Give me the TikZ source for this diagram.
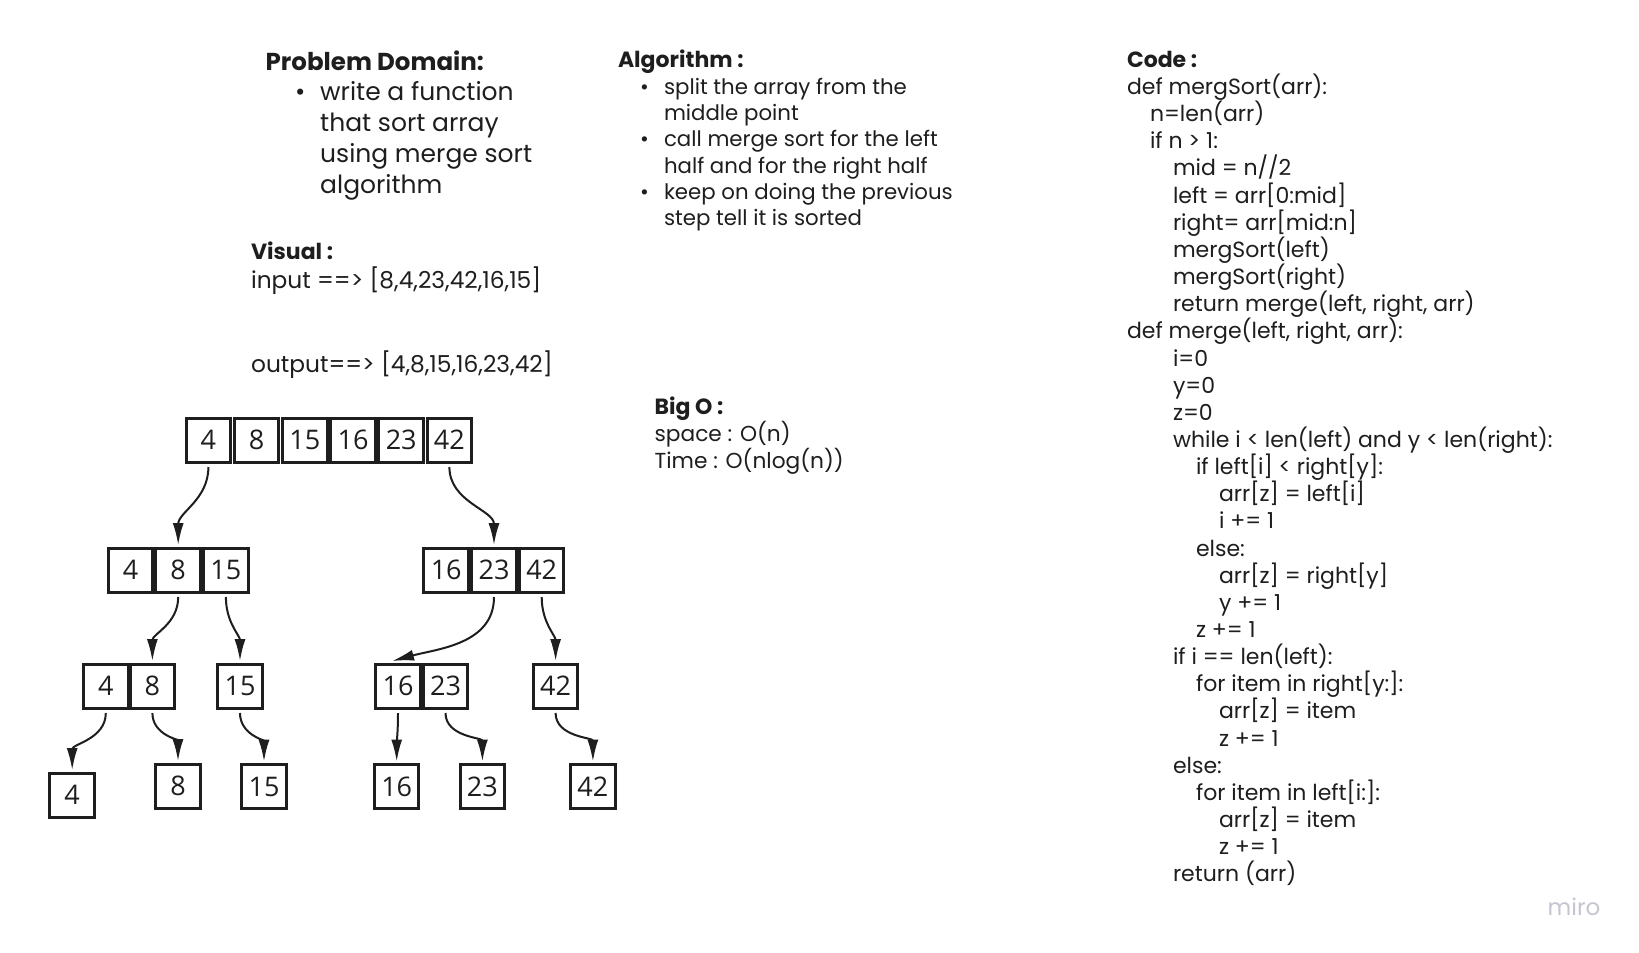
\documentclass[tikz,border=0pt]{standalone}
\usepackage{fontspec}
\setmainfont{Poppins}
\newfontfamily\numfont{Open Sans}
\usetikzlibrary{arrows.meta}
\definecolor{ink}{HTML}{1E1E1E}
\definecolor{wmark}{HTML}{C5C6CF}
\tikzset{
  cell/.style={draw=ink, line width=3pt, minimum width=44.5pt, minimum height=44pt, inner sep=0pt,
    font=\numfont\fontsize{27}{27}\selectfont, text=ink},
  arr/.style={draw=ink, line width=2pt, -{Latex[length=22pt,width=11pt]}},
  bighead/.style={anchor=base west, inner sep=0pt, font=\bfseries\fontsize{24.5}{28}\selectfont, text=ink},
  head/.style={anchor=base west, inner sep=0pt, font=\bfseries\fontsize{22}{26}\selectfont, text=ink},
  bigtxt/.style={anchor=base west, inner sep=0pt, font=\fontsize{25}{29}\selectfont, text=ink},
  txt/.style={anchor=base west, inner sep=0pt, font=\fontsize{23.3}{27}\selectfont, text=ink},
  botxt/.style={anchor=base west, inner sep=0pt, font=\fontsize{21.7}{25}\selectfont, text=ink},
  algtxt/.style={anchor=base west, inner sep=0pt, font=\fontsize{21.3}{25}\selectfont, text=ink},
  codetxt/.style={anchor=base west, inner sep=0pt, font=\fontsize{22}{26}\selectfont, text=ink},
}
\begin{document}
\begin{tikzpicture}[x=1pt,y=1pt]
\useasboundingbox[fill=white] (0,0) rectangle (1639,-953);

% ---------- Problem Domain ----------
\node[bighead] (pdh) at (265.5,-70) {Problem Domain:};
\foreach \t [count=\i] in {write a function, that sort array, using merge sort, algorithm}{
  \node[bigtxt] (pd\i) at (320,{-100.5-31*(\i-1)}) {\t};
}
\node[bigtxt] (pdb) at (295,-100.5) {•};

% ---------- Visual ----------
\node[head] (vh) at (250.9,-259.5) {Visual :};
\node[txt] (vin) at (250.9,-288) {input ==> [8,4,23,42,16,15]};
\node[txt] (vout) at (250.9,-372) {output==> [4,8,15,16,23,42]};

% ---------- Algorithm ----------
\node[head] (alh) at (617.8,-67) {Algorithm :};
\foreach \t [count=\i] in {split the array from the, middle point, call merge sort for the left, half and for the right half, keep on doing the previous, step tell it is sorted}{
  \node[algtxt] (al\i) at (663.8,{-94-26.35*(\i-1)}) {\t};
}
\node[algtxt] (alb1) at (640,-94) {•};
\node[algtxt] (alb2) at (640,-146.7) {•};
\node[algtxt] (alb3) at (640,-199.4) {•};

% ---------- Big O ----------
\node[head] (boh) at (654.4,-414) {Big O :};
\node[botxt] (bo1) at (654.4,-441.3) {space : O(n)};
\node[botxt] (bo2) at (654.4,-468.5) {Time : O(nlog(n))};

% ---------- Code ----------
\node[head] (cdh) at (1126.8,-67) {Code :};
\foreach \ind/\t [count=\i] in {
  0/{def mergSort(arr):},
  1/{n=len(arr)},
  1/{if n > 1:},
  2/{mid = n//2},
  2/{left = arr[0:mid]},
  2/{right= arr[mid:n]},
  2/{mergSort(left)},
  2/{mergSort(right)},
  2/{return merge(left, right, arr)},
  0/{def merge(left, right, arr):},
  2/{i=0},
  2/{y=0},
  2/{z=0},
  2/{while i < len(left) and y < len(right):},
  3/{if left[i] < right[y]:},
  4/{arr[z] = left[i]},
  4/{i += 1},
  3/{else:},
  4/{arr[z] = right[y]},
  4/{y += 1},
  3/{z += 1},
  2/{if i == len(left):},
  3/{for item in right[y:]:},
  4/{arr[z] = item},
  4/{z += 1},
  2/{else:},
  3/{for item in left[i:]:},
  4/{arr[z] = item},
  4/{z += 1},
  2/{return (arr)}}{
  \node[codetxt] (code\i) at ({1126.8+23*\ind},{-94.5-27.15*(\i-1)}) {\t};
}

\node[anchor=center, inner sep=0pt, text=wmark, font=\fontsize{23}{26}\selectfont] (miro) at (1574,-907) {miro};

% ---------- Tree ----------
\foreach \v [count=\i] in {4,8,15,16,23,42}{
  \node[cell] (t\i) at ({208.4+48.2*(\i-1)},-440) {\v};
}
\node[cell] (a1) at (130.5,-570) {4};
\node[cell] (a2) at (178.2,-570) {8};
\node[cell] (a3) at (225.9,-570) {15};
\node[cell] (b1) at (446.2,-570) {16};
\node[cell] (b2) at (494,-570) {23};
\node[cell] (b3) at (541.7,-570) {42};

\node[cell] (c1) at (105.8,-686) {4};
\node[cell] (c2) at (152.4,-686) {8};
\node[cell] (c3) at (240,-686) {15};
\node[cell] (c4) at (398,-686) {16};
\node[cell] (c5) at (445.5,-686) {23};
\node[cell] (c6) at (555.6,-686) {42};

\node[cell] (d1) at (72.2,-795) {4};
\node[cell] (d2) at (178,-786) {8};
\node[cell] (d3) at (264,-786.5) {15};
\node[cell] (d4) at (396.7,-786.5) {16};
\node[cell] (d5) at (482.4,-786.5) {23};
\node[cell] (d6) at (592.9,-786.5) {42};

\draw[arr] ([yshift=-3.5pt]t1.south) to[out=-90,in=90] ([yshift=1.5pt]a2.north);
\draw[arr] ([yshift=-3.5pt]t6.south) to[out=-90,in=90] ([yshift=1.5pt]b2.north);
\draw[arr] ([yshift=-3.5pt]a2.south) to[out=-90,in=90] ([yshift=1.5pt]c2.north);
\draw[arr] ([yshift=-3.5pt]a3.south) to[out=-90,in=90] ([yshift=1.5pt]c3.north);
\draw[arr] ([yshift=-3.5pt]b2.south) to[out=-90,in=15] ([xshift=-6pt,yshift=1.5pt]c4.north);
\draw[arr] ([yshift=-3.5pt]b3.south) to[out=-90,in=90] ([yshift=1.5pt]c6.north);
\draw[arr] ([yshift=-3.5pt]c1.south) to[out=-90,in=90] ([yshift=1.5pt]d1.north);
\draw[arr] ([yshift=-3.5pt]c2.south) to[out=-90,in=90] ([yshift=1.5pt]d2.north);
\draw[arr] ([yshift=-3.5pt]c3.south) to[out=-90,in=90] ([yshift=1.5pt]d3.north);
\draw[arr] ([yshift=-3.5pt]c4.south) to[out=-90,in=90] ([yshift=1.5pt]d4.north);
\draw[arr] ([yshift=-3.5pt]c5.south) to[out=-90,in=90] ([yshift=1.5pt]d5.north);
\draw[arr] ([yshift=-3.5pt]c6.south) to[out=-90,in=90] ([yshift=1.5pt]d6.north);
\end{tikzpicture}
\end{document}
